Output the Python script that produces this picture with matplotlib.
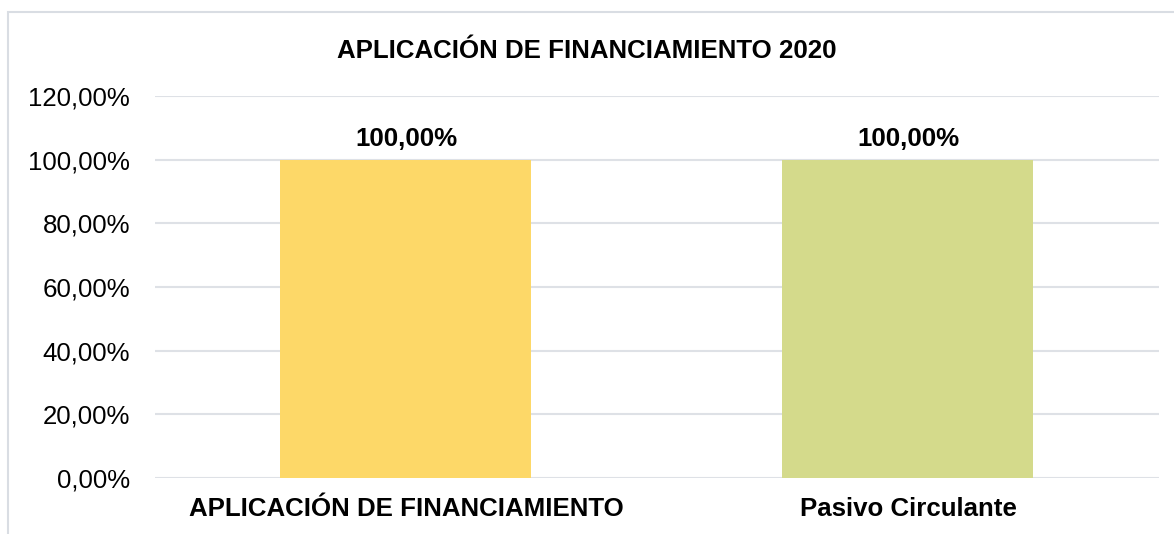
import matplotlib.pyplot as plt
from matplotlib.patches import Rectangle
from matplotlib.ticker import FuncFormatter

# Datos
categorias = ['APLICACIÓN DE FINANCIAMIENTO', 'Pasivo Circulante']
valores = [1.0, 1.0]
colores = ['#FDD868', '#D4DA8B']
titulo = 'APLICACIÓN DE FINANCIAMIENTO 2020'
yticks = [0.0, 0.2, 0.4, 0.6, 0.8, 1.0, 1.2]

plt.rcParams['font.family'] = ['Liberation Sans', 'DejaVu Sans']
FS = 18.6

fig = plt.figure(figsize=(11.74, 5.34), dpi=100)
ax = fig.add_axes([0.1320, 0.1049, 0.8552, 0.7154])

# Borde del gráfico (solo se ve arriba e izquierda)
fig.patches.append(Rectangle((8 / 1174, -0.1), 1.2, 1 - 12 / 534 + 0.1,
                             transform=fig.transFigure, fill=False,
                             edgecolor='#D9DDE3', linewidth=1.5))

x = range(len(categorias))
barras = ax.bar(x, valores, width=0.5, color=colores, zorder=2)

def fmt_pct(v, pos=None):
    return f'{v * 100:.2f}%'.replace('.', ',')

for b, v in zip(barras, valores):
    ax.annotate(fmt_pct(v), (b.get_x() + b.get_width() / 2, v),
                xytext=(0, 6), textcoords='offset points',
                ha='center', va='bottom', fontsize=FS, fontweight='bold')

ax.set_xlim(-0.5, 1.5)
ax.set_ylim(0, 1.2)
ax.set_yticks(yticks)
ax.yaxis.set_major_formatter(FuncFormatter(fmt_pct))
ax.set_xticks(list(x))
ax.set_xticklabels(categorias, fontsize=FS, fontweight='bold')
ax.tick_params(axis='x', length=0, pad=14)
ax.tick_params(axis='y', length=0, pad=18, labelsize=FS)
ax.grid(axis='y', color='#DEE1E6', linewidth=1.5, zorder=0)
for s in ax.spines.values():
    s.set_visible(False)

fig.text(0.5, 1 - 51 / 534, titulo, ha='center', va='center',
         fontsize=FS, fontweight='bold')

fig.savefig('out.png', dpi=100)
